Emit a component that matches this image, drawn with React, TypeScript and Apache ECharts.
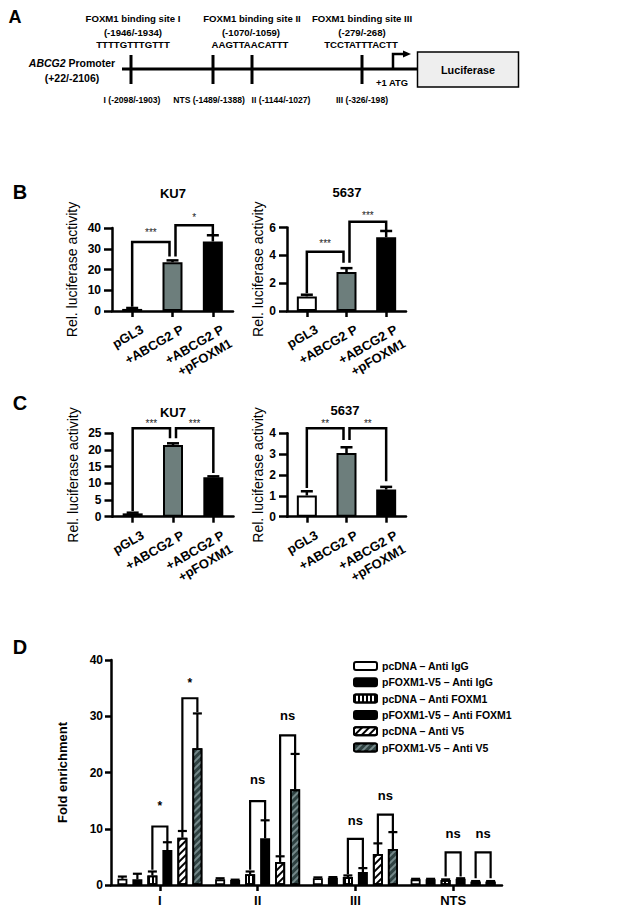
import React, { useEffect, useRef } from 'react';
import * as echarts from 'echarts';

const FONT = '"Liberation Sans", Arial, Helvetica, sans-serif';

// ---------- Panels B & C (luciferase assays) ----------
const luciferaseCategories = ['pGL3', '+ABCG2 P', '+ABCG2 P\n+pFOXM1'];
const luciferaseColors = ['#ffffff', '#6d7e7c', '#000000'];

const bKU7Values = [1.0, 23.5, 33.5];
const bKU7Errors = [0.45, 0.9, 3.0];
const b5637Values = [1.05, 2.8, 5.3];
const b5637Errors = [0.12, 0.28, 0.45];
const cKU7Values = [1.0, 21.5, 11.8];
const cKU7Errors = [0.2, 0.5, 0.3];
const c5637Values = [1.02, 3.05, 1.3];
const c5637Errors = [0.2, 0.28, 0.13];

// [leftBar, rightBar, top, leftLegEnd, rightLegEnd, labelY]
const bKU7Brackets = [[0, 1, 33.2, 2.1, 26.3, 37.6], [1, 2, 41.3, 26.3, 36.8, 45.3]];
const bKU7BracketLabels = ['***', '*'];
const b5637Brackets = [[0, 1, 4.26, 1.27, 3.47, 4.86], [1, 2, 6.41, 3.47, 5.8, 6.84]];
const b5637BracketLabels = ['***', '***'];
const cKU7Brackets = [[0, 1, 26.5, 1.7, 23.5, 28.0], [1, 2, 26.5, 23.5, 13.1, 28.0]];
const cKU7BracketLabels = ['***', '***'];
const c5637Brackets = [[0, 1, 4.24, 1.38, 3.68, 4.46], [1, 2, 4.24, 3.68, 1.7, 4.46]];
const c5637BracketLabels = ['**', '**'];

// ---------- Panel D (ChIP) ----------
const chipCategories = ['I', 'II', 'III', 'NTS'];
const chipSeriesNames = [
  'pcDNA – Anti IgG',
  'pFOXM1-V5 – Anti IgG',
  'pcDNA – Anti FOXM1',
  'pFOXM1-V5 – Anti FOXM1',
  'pcDNA – Anti V5',
  'pFOXM1-V5 – Anti V5',
];
const pcDNAIgG = [1.1, 1.0, 1.2, 1.0];
const pcDNAIgGErr = [0.4, 0.2, 0.15, 0.1];
const pFOXM1IgG = [1.0, 0.9, 1.3, 1.0];
const pFOXM1IgGErr = [1.0, 0.05, 0.1, 0.1];
const pcDNAFOXM1 = [1.7, 1.9, 1.4, 0.9];
const pcDNAFOXM1Err = [0.7, 0.5, 0.3, 0.1];
const pFOXM1FOXM1 = [6.2, 8.3, 2.3, 1.1];
const pFOXM1FOXM1Err = [1.4, 3.2, 0.7, 0.1];
const pcDNAV5 = [8.4, 4.1, 5.5, 0.6];
const pcDNAV5Err = [1.2, 1.0, 1.9, 0.1];
const pFOXM1V5 = [24.3, 17.0, 6.4, 0.6];
const pFOXM1V5Err = [6.2, 6.3, 3.0, 0.1];

// [group, leftBar, rightBar, top, leftLegEnd, rightLegEnd, labelY]
const chipBrackets = [
  [0, 2, 3, 10.4, 2.7, 7.6, 14],
  [0, 4, 5, 33.2, 9.8, 30.7, 36],
  [1, 2, 3, 14.9, 2.7, 11.6, 18.75],
  [1, 4, 5, 26.6, 5.2, 23.4, 30.2],
  [2, 2, 3, 8.2, 1.9, 3.0, 11.5],
  [2, 4, 5, 12.5, 7.4, 9.5, 16],
  [3, 2, 3, 5.8, 1.5, 1.5, 9.2],
  [3, 4, 5, 5.8, 1.2, 1.2, 9.2],
];
const chipBracketLabels = ['*', '*', 'ns', 'ns', 'ns', 'ns', 'ns', 'ns'];

const chipValues = [pcDNAIgG, pFOXM1IgG, pcDNAFOXM1, pFOXM1FOXM1, pcDNAV5, pFOXM1V5];
const chipErrors = [pcDNAIgGErr, pFOXM1IgGErr, pcDNAFOXM1Err, pFOXM1FOXM1Err, pcDNAV5Err, pFOXM1V5Err];

// ---------- styles ----------
const BLACK = '#000';
const axisLineStyle = { color: BLACK, width: 2.5 };
const CHIP_BAR_W = 10;
const CHIP_STEP = 15;

const vertDecal = {
  symbol: 'rect', symbolSize: 1, dashArrayX: [2, 2], dashArrayY: [1, 0], rotation: 0, color: BLACK,
};
const diagDecal = (color: string) => ({
  symbol: 'rect', symbolSize: 1, dashArrayX: [1.6, 2.4], dashArrayY: [1, 0], rotation: Math.PI / 4, color,
});
const chipStyles: any[] = [
  { color: '#ffffff' },
  { color: '#000000' },
  { color: '#ffffff', decal: vertDecal },
  { color: '#000000' },
  { color: '#ffffff', decal: diagDecal('#000') },
  { color: '#2f4242', decal: diagDecal('#75898a') },
];

function lucXAxis(gridIndex: number) {
  return {
    gridIndex, type: 'category', data: luciferaseCategories,
    axisLine: { lineStyle: axisLineStyle },
    axisTick: { show: true, alignWithLabel: true, length: 6, lineStyle: axisLineStyle },
    axisLabel: {
      interval: 0, rotate: 30, margin: 0, verticalAlign: 'top', align: 'right', padding: [12, 0, 0, 0],
      color: BLACK, fontFamily: FONT, fontWeight: 'bold', fontSize: 13, lineHeight: 16,
    },
  };
}
function lucYAxis(gridIndex: number, max: number, interval: number, nameGap: number) {
  return {
    gridIndex, type: 'value', min: 0, max, interval,
    name: 'Rel. luciferase activity', nameLocation: 'middle', nameGap,
    nameTextStyle: { color: BLACK, fontFamily: FONT, fontSize: 14 },
    axisLine: { show: true, lineStyle: axisLineStyle },
    axisTick: { show: true, length: 8, lineStyle: axisLineStyle },
    axisLabel: { margin: 11, color: BLACK, fontFamily: FONT, fontWeight: 'bold', fontSize: 12 },
    splitLine: { show: false },
  };
}

function lucBars(idx: number, values: number[]) {
  return {
    type: 'bar', name: 'luc' + idx, xAxisIndex: idx, yAxisIndex: idx, barWidth: 20,
    itemStyle: { borderColor: BLACK, borderWidth: 2 },
    data: values.map((v, i) => ({ value: v, itemStyle: { color: luciferaseColors[i] } })),
    z: 2,
  };
}
function lucErrors(idx: number, values: number[], errors: number[]) {
  return {
    type: 'custom', name: 'lucerr' + idx, xAxisIndex: idx, yAxisIndex: idx, z: 3,
    itemStyle: { color: BLACK },
    data: values.map((v, i) => [i, v, errors[i]]),
    encode: { x: 0, y: 1 },
    renderItem: (_p: any, api: any) => {
      const x = api.value(0); const v = api.value(1); const e = api.value(2);
      const p0 = api.coord([x, v]); const p1 = api.coord([x, v + e]);
      const st = { stroke: BLACK, lineWidth: 2.5 };
      return {
        type: 'group', children: [
          { type: 'line', shape: { x1: p0[0], y1: p0[1], x2: p1[0], y2: p1[1] }, style: st },
          { type: 'line', shape: { x1: p1[0] - 6, y1: p1[1], x2: p1[0] + 6, y2: p1[1] }, style: st },
        ],
      };
    },
  };
}
function lucBrackets(idx: number, brackets: number[][], labels: string[]) {
  return {
    type: 'custom', name: 'lucbr' + idx, xAxisIndex: idx, yAxisIndex: idx, z: 4, clip: false,
    itemStyle: { color: BLACK },
    data: brackets,
    encode: { x: 0, y: 2 },
    renderItem: (p: any, api: any) => {
      const a = api.value(0); const b = api.value(1);
      const top = api.value(2); const le = api.value(3); const re = api.value(4); const ly = api.value(5);
      const xa = api.coord([a, 0])[0] + (a === 1 ? 3 : 0);
      const xb = api.coord([b, 0])[0] - (b === 1 ? 3 : 0);
      const yt = api.coord([a, top])[1];
      const yl = api.coord([a, le])[1];
      const yr = api.coord([a, re])[1];
      const yLab = api.coord([a, ly])[1];
      return {
        type: 'group', children: [
          { type: 'polyline', shape: { points: [[xa, yl], [xa, yt], [xb, yt], [xb, yr]] }, style: { stroke: BLACK, lineWidth: 2.5, fill: 'none' } },
          { type: 'text', style: { text: labels[p.dataIndex], x: (xa + xb) / 2, y: yLab, align: 'center', verticalAlign: 'middle', fontFamily: FONT, fontSize: 10, fill: '#222' } },
        ],
      };
    },
  };
}

function chipOffset(bar: number) {
  return (bar - 2.5) * CHIP_STEP;
}

const chipBarSeries = chipSeriesNames.map((name, s) => ({
  type: 'bar', name, xAxisIndex: 4, yAxisIndex: 4, barWidth: CHIP_BAR_W, barGap: '50%',
  itemStyle: { ...chipStyles[s], borderColor: BLACK, borderWidth: 1.8 },
  data: chipValues[s], z: 2,
}));

const chipErrData: number[][] = [];
chipValues.forEach((vals, s) => vals.forEach((v, g) => chipErrData.push([g, s, v, chipErrors[s][g]])));

const chipErrSeries = {
  type: 'custom', name: 'chiperr', xAxisIndex: 4, yAxisIndex: 4, z: 3,
  itemStyle: { color: BLACK },
  data: chipErrData, encode: { x: 0, y: 2 },
  renderItem: (_p: any, api: any) => {
    const g = api.value(0); const s = api.value(1); const v = api.value(2); const e = api.value(3);
    const p0 = api.coord([g, v]); const p1 = api.coord([g, v + e]);
    const x = p0[0] + chipOffset(s);
    const st = { stroke: BLACK, lineWidth: 2.2 };
    return {
      type: 'group', children: [
        { type: 'line', shape: { x1: x, y1: p0[1], x2: x, y2: p1[1] }, style: st },
        { type: 'line', shape: { x1: x - 4.5, y1: p1[1], x2: x + 4.5, y2: p1[1] }, style: st },
      ],
    };
  },
};

const chipBracketSeries = {
  type: 'custom', name: 'chipbr', xAxisIndex: 4, yAxisIndex: 4, z: 4, clip: false,
  itemStyle: { color: BLACK },
  data: chipBrackets, encode: { x: 0, y: 3 },
  renderItem: (p: any, api: any) => {
    const g = api.value(0); const a = api.value(1); const b = api.value(2);
    const top = api.value(3); const le = api.value(4); const re = api.value(5); const ly = api.value(6);
    const cx = api.coord([g, 0])[0];
    const xa = cx + chipOffset(a); const xb = cx + chipOffset(b);
    const yt = api.coord([g, top])[1]; const yl = api.coord([g, le])[1]; const yr = api.coord([g, re])[1];
    const yLab = api.coord([g, ly])[1];
    const lab = chipBracketLabels[p.dataIndex];
    return {
      type: 'group', children: [
        { type: 'polyline', shape: { points: [[xa, yl], [xa, yt], [xb, yt], [xb, yr]] }, style: { stroke: BLACK, lineWidth: 2.2, fill: 'none' } },
        { type: 'text', style: { text: lab, x: (xa + xb) / 2, y: yLab, align: 'center', verticalAlign: 'middle', fontFamily: FONT, fontWeight: 'bold', fontSize: lab === '*' ? 12 : 13, fill: BLACK } },
      ],
    };
  },
};

// ---------- Panel A diagram ----------
function txt(text: string, x: number, y: number, size = 9.2, weight = 'bold', align = 'center') {
  return { type: 'text', silent: true, style: { text, x, y, align, verticalAlign: 'middle', fontFamily: FONT, fontWeight: weight, fontSize: size, fill: BLACK } };
}
const panelA: any[] = [
  txt('A', 15, 17, 18),
  { type: 'line', shape: { x1: 122, y1: 69, x2: 418, y2: 69 }, style: { stroke: BLACK, lineWidth: 3 } },
  ...[131, 213, 252, 362].map((x) => ({ type: 'line', shape: { x1: x, y1: 55, x2: x, y2: 84 }, style: { stroke: BLACK, lineWidth: 3 } })),
  { type: 'polyline', shape: { points: [[393, 69], [393, 54], [404, 54]] }, style: { stroke: BLACK, lineWidth: 2.5, fill: 'none' } },
  { type: 'polygon', shape: { points: [[403, 50.5], [411, 54], [403, 57.5]] }, style: { fill: BLACK } },
  { type: 'rect', shape: { x: 417.5, y: 52, width: 101, height: 35 }, style: { fill: '#eeeeee', stroke: BLACK, lineWidth: 1.5 } },
  txt('Luciferase', 468, 69.5, 10.8),
  txt('FOXM1 binding site I', 133, 18.5, 9.6),
  txt('(-1946/-1934)', 133, 32, 9.6),
  txt('TTTTGTTTGTTT', 133, 44.5, 9.6),
  txt('FOXM1 binding site II', 252, 18.5, 9.6),
  txt('(-1070/-1059)', 251, 32, 9.6),
  txt('AAGTTAACATTT', 250, 44.5, 9.6),
  txt('FOXM1 binding site III', 362, 18.5, 9.6),
  txt('(-279/-268)', 362, 32, 9.6),
  txt('TCCTATTTACTT', 361, 44.5, 9.6),
  {
    type: 'text', silent: true,
    style: {
      text: '{i|ABCG2} Promoter', x: 72, y: 63, align: 'center', verticalAlign: 'middle',
      fontFamily: FONT, fontWeight: 'bold', fontSize: 10.5, fill: BLACK,
      rich: { i: { fontStyle: 'italic', fontWeight: 'bold', fontFamily: FONT, fontSize: 10.5, fill: BLACK } },
    },
  },
  txt('(+22/-2106)', 72, 78, 10.5),
  txt('+1 ATG', 392, 82.5, 9.4),
  txt('I (-2098/-1903)', 132, 100, 8.6),
  txt('NTS (-1489/-1388)', 209, 100, 8.6),
  txt('II (-1144/-1027)', 281, 100, 8.6),
  txt('III (-326/-198)', 362, 100, 8.6),
];

const panelTitles: any[] = [
  txt('B', 20, 192, 20),
  txt('KU7', 173, 193, 13),
  txt('5637', 347, 192, 13),
  txt('C', 20, 403, 20),
  txt('KU7', 173, 412, 13),
  txt('5637', 345, 410, 13),
  txt('D', 20, 647, 20),
];

const option: any = {
  animation: false,
  backgroundColor: '#ffffff',
  grid: [
    { left: 112, top: 228, width: 121, height: 83 },
    { left: 287, top: 227.5, width: 119, height: 83.5 },
    { left: 112.5, top: 433.3, width: 121, height: 83.4 },
    { left: 287, top: 433.3, width: 119, height: 83.4 },
    { left: 111, top: 660, width: 391, height: 225 },
  ],
  xAxis: [
    lucXAxis(0), lucXAxis(1), lucXAxis(2), lucXAxis(3),
    {
      gridIndex: 4, type: 'category', data: chipCategories,
      axisLine: { lineStyle: axisLineStyle },
      axisTick: { show: true, alignWithLabel: true, length: 6, lineStyle: axisLineStyle },
      axisLabel: { interval: 0, margin: 9, color: BLACK, fontFamily: FONT, fontWeight: 'bold', fontSize: 13 },
    },
  ],
  yAxis: [
    lucYAxis(0, 40, 10, 33),
    lucYAxis(1, 6, 2, 19),
    lucYAxis(2, 25, 5, 33),
    lucYAxis(3, 4, 1, 21),
    {
      gridIndex: 4, type: 'value', min: 0, max: 40, interval: 10,
      name: 'Fold enrichment', nameLocation: 'middle', nameGap: 42,
      nameTextStyle: { color: BLACK, fontFamily: FONT, fontSize: 13, fontWeight: 'bold' },
      axisLine: { show: true, lineStyle: axisLineStyle },
      axisTick: { show: true, length: 6, lineStyle: axisLineStyle },
      axisLabel: { margin: 8, color: BLACK, fontFamily: FONT, fontWeight: 'bold', fontSize: 12 },
      splitLine: { show: false },
    },
  ],
  legend: {
    data: chipSeriesNames, orient: 'vertical', left: 348, top: 655,
    itemWidth: 23, itemHeight: 8, itemGap: 4.3,
    textStyle: { color: BLACK, fontFamily: FONT, fontWeight: 'bold', fontSize: 10.5, lineHeight: 12 },
  },
  graphic: [...panelA, ...panelTitles],
  series: [
    lucBars(0, bKU7Values), lucErrors(0, bKU7Values, bKU7Errors), lucBrackets(0, bKU7Brackets, bKU7BracketLabels),
    lucBars(1, b5637Values), lucErrors(1, b5637Values, b5637Errors), lucBrackets(1, b5637Brackets, b5637BracketLabels),
    lucBars(2, cKU7Values), lucErrors(2, cKU7Values, cKU7Errors), lucBrackets(2, cKU7Brackets, cKU7BracketLabels),
    lucBars(3, c5637Values), lucErrors(3, c5637Values, c5637Errors), lucBrackets(3, c5637Brackets, c5637BracketLabels),
    ...chipBarSeries, chipErrSeries, chipBracketSeries,
  ],
};

export default function App() {
  const ref = useRef<HTMLDivElement>(null);
  useEffect(() => {
    if (!ref.current) return;
    const chart = echarts.init(ref.current, null, { renderer: 'svg' });
    chart.setOption(option);
    return () => chart.dispose();
  }, []);
  return <div ref={ref} style={{ position: 'absolute', left: 0, top: 0, width: 644, height: 917, background: '#fff' }} />;
}
